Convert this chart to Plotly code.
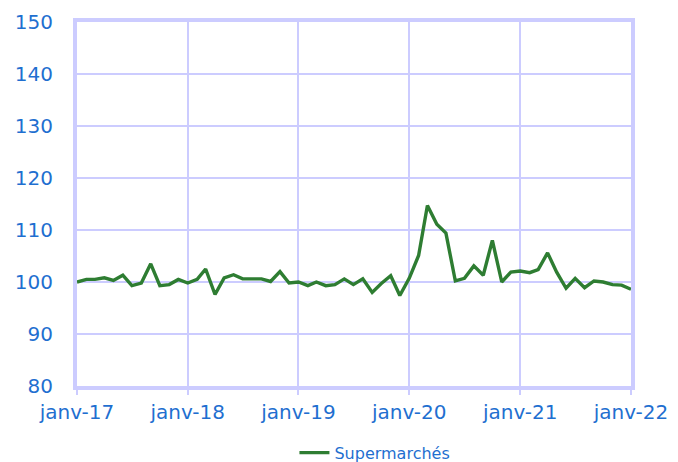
import plotly.graph_objects as go
import pandas as pd

months = pd.date_range("2017-01-01", "2022-01-01", freq="MS")
supermarches = [
    100.0, 100.5, 100.5, 100.8, 100.3, 101.3, 99.3, 99.8, 103.5, 99.3, 99.5, 100.5,
    99.8, 100.5, 102.5, 97.6, 100.8, 101.4, 100.6, 100.6, 100.6, 100.1, 102.0, 99.8,
    100.0, 99.3, 100.0, 99.3, 99.5, 100.6, 99.5, 100.6, 98.0, 99.7, 101.2, 97.4,
    100.7, 105.1, 114.7, 111.1, 109.4, 100.2, 100.7, 103.1, 101.3, 108.0, 100.0, 101.9,
    102.1, 101.8, 102.4, 105.6, 101.9, 98.8, 100.7, 98.9, 100.2, 100.0, 99.5, 99.4,
    98.6,
]
tick_vals = pd.date_range("2017-01-01", "2022-01-01", freq="YS")
tick_text = ["janv-17", "janv-18", "janv-19", "janv-20", "janv-21", "janv-22"]

blue = "#1f6fd0"
lav = "#ccccff"
font_fam = "DejaVu Sans, Verdana, sans-serif"

fig = go.Figure()
fig.add_trace(go.Scatter(
    x=months, y=supermarches, mode="lines", name="Supermarchés",
    line=dict(color="#2e7d32", width=3.4),
))
fig.update_layout(
    width=678, height=462,
    margin=dict(l=77, r=47, t=22, b=76, autoexpand=False),
    paper_bgcolor="white", plot_bgcolor="white",
    font=dict(family=font_fam, color=blue),
    showlegend=True,
    legend=dict(orientation="h", xref="container", yref="container",
                x=0.553, xanchor="center", y=0.02, yanchor="middle",
                font=dict(size=16, color=blue, family=font_fam)),
)
fig.update_xaxes(
    range=[months[0], months[-1]],
    tickvals=tick_vals, ticktext=tick_text,
    tickfont=dict(size=20, color=blue),
    showgrid=True, gridcolor=lav, gridwidth=1.5,
    showline=True, linecolor=lav, linewidth=4, mirror=True,
    ticks="outside", ticklen=5, tickcolor=lav, tickwidth=1.5,
    ticklabelstandoff=0, automargin=False,
)
fig.update_yaxes(
    range=[80, 150], dtick=10,
    tickfont=dict(size=20, color=blue),
    showgrid=True, gridcolor=lav, gridwidth=1.5,
    showline=True, linecolor=lav, linewidth=4, mirror=True,
    ticks="", zeroline=False,
    ticklabelstandoff=16, automargin=False,
)
fig.write_html("out.html", config={"displayModeBar": False},
               post_script="document.body.style.margin='0';")
